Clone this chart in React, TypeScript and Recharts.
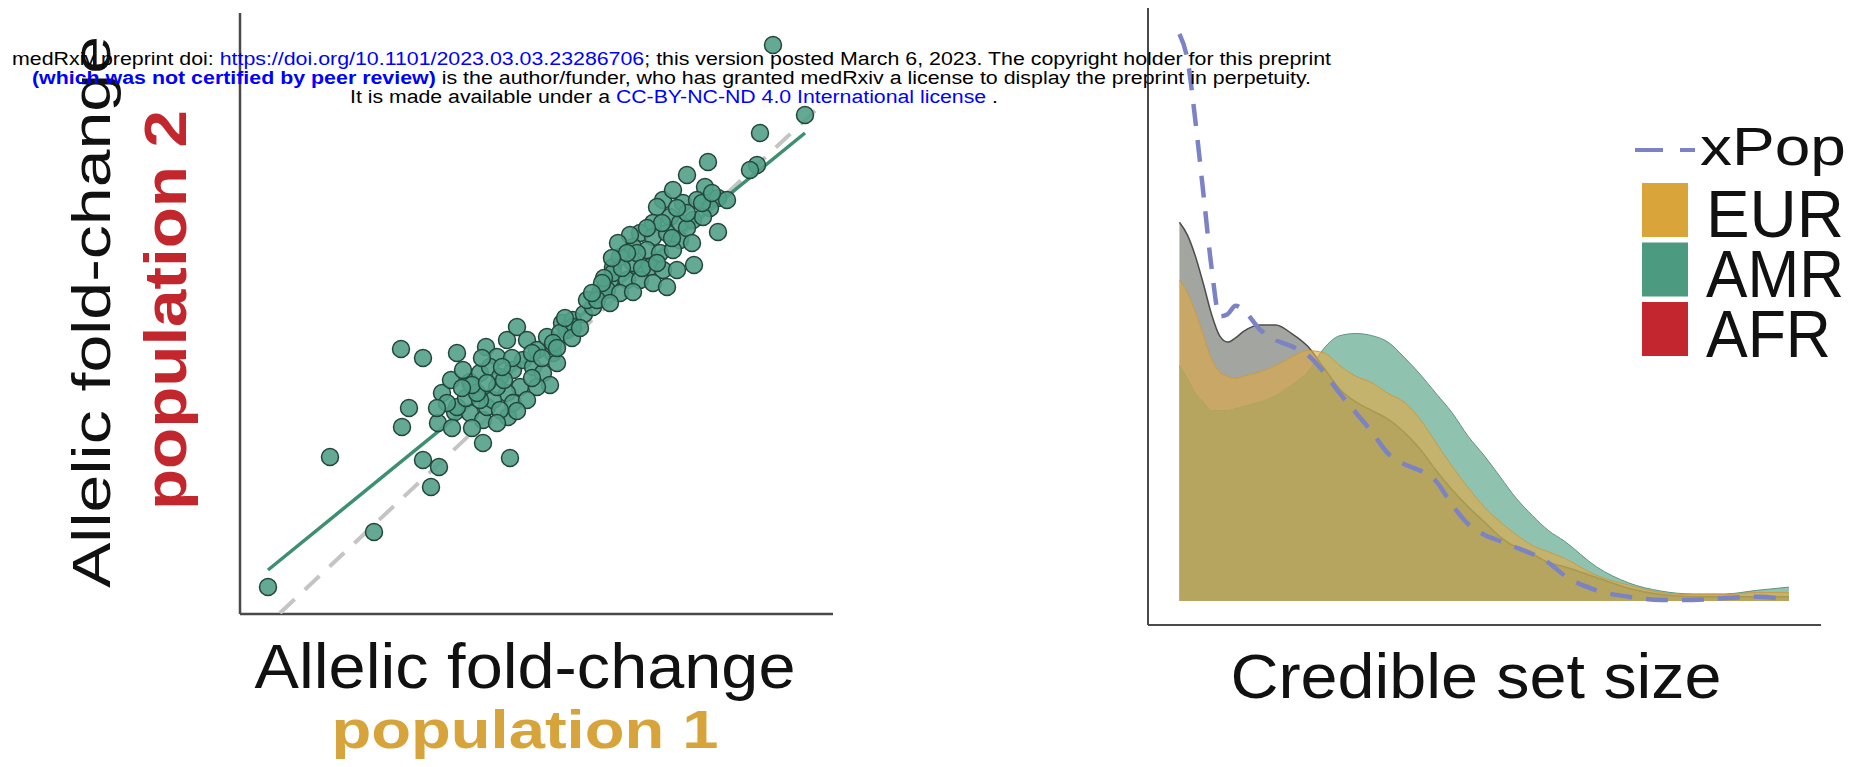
import React from "react";
import { ScatterChart, Scatter, ComposedChart, Area, Line, XAxis, YAxis } from "recharts";

// left panel: allelic fold-change, population 1 vs population 2
const pop1Fold = [
  0.26, 0.88, 1.32, 1.67, 1.6, 1.96, 1.81, 1.97, 1.89, 2.0, 2.41, 2.13, 2.28, 2.41, 2.68, 2.45,
  1.59, 1.81, 2.15, 2.44, 2.09, 2.15, 2.28, 2.38, 2.24, 2.66, 2.55, 2.65, 2.75, 2.85, 2.95, 3.05,
  3.11, 3.2, 3.31, 3.42, 2.48, 2.58, 2.71, 2.81, 2.91, 3.01, 3.08, 2.78, 2.65, 2.51, 2.38, 2.55,
  2.95, 2.71, 2.85, 2.58, 2.35, 3.51, 3.58, 3.68, 3.71, 3.45, 3.25, 5.63, 5.18, 5.15, 5.08, 4.66,
  4.45, 4.63, 4.76, 4.85, 4.76, 4.52, 4.21, 4.15, 4.41, 4.55, 4.68, 4.28, 4.38, 4.51, 4.61, 4.11,
  3.98, 4.11, 4.25, 4.38, 3.91, 4.05, 4.18, 4.31, 3.78, 3.91, 4.08, 4.21, 4.35, 3.71, 3.85, 3.98,
  4.11, 4.25, 3.65, 3.78, 3.91, 3.55, 3.68, 3.31, 3.18, 3.11, 5.31, 3.88, 3.76, 4.31, 2.21, 3.23,
  2.3, 2.45, 2.62, 2.7, 2.9, 3.0, 2.4, 2.6, 2.2, 2.05, 1.95, 2.1, 2.3, 2.55, 2.75, 2.9,
  3.15, 3.3, 3.38, 3.15, 3.62, 3.8, 3.95, 4.0, 4.15, 4.3, 4.45, 4.45, 4.6, 4.2, 4.05, 3.85,
  3.7, 4.35, 3.6, 3.5, 4.5, 4.7,
];
const pop2Fold = [
  0.26, 1.56, 0.81, 2.05, 1.86, 1.9, 1.53, 1.46, 1.26, 2.2, 1.7, 2.01, 2.0, 1.93, 1.55, 2.06,
  2.64, 2.55, 2.6, 2.66, 2.33, 2.06, 2.31, 2.4, 2.15, 1.96, 2.56, 2.73, 2.86, 2.73, 2.63, 2.76,
  2.6, 2.9, 2.93, 2.99, 2.46, 2.36, 2.43, 2.53, 2.46, 2.4, 2.28, 2.26, 2.2, 2.13, 2.13, 2.26,
  2.26, 2.1, 2.13, 2.03, 2.2, 3.06, 3.2, 3.33, 3.46, 3.13, 2.83, 4.98, 4.8, 4.48, 4.43, 4.51,
  4.38, 4.26, 4.15, 4.13, 3.81, 3.48, 4.13, 4.06, 4.1, 4.13, 4.05, 3.96, 3.9, 3.93, 3.96, 3.9,
  3.8, 3.76, 3.8, 3.73, 3.66, 3.63, 3.6, 3.63, 3.56, 3.5, 3.46, 3.43, 3.43, 3.4, 3.33, 3.33,
  3.3, 3.26, 3.23, 3.2, 3.21, 3.13, 3.1, 2.86, 2.8, 2.7, 5.68, 3.78, 3.7, 4.23, 2.43, 2.95,
  2.28, 2.3, 2.33, 2.55, 2.6, 2.55, 2.55, 2.46, 2.25, 2.1, 2.05, 1.85, 1.85, 1.9, 2.02, 2.35,
  2.5, 2.75, 2.85, 2.65, 3.35, 3.45, 3.6, 3.45, 3.5, 3.75, 3.85, 4.0, 4.1, 3.9, 3.85, 3.6,
  3.55, 4.05, 3.3, 3.2, 3.7, 4.2,
];
const identityX = [0.38, 5.78];
const identityY = [0, 5.07];
const fitX = [0.26, 5.63];
const fitY = [0.43, 4.8];

// right panel: credible set size densities
const setSize = [
  0, 0.05, 0.1, 0.15, 0.2, 0.25, 0.3, 0.35, 0.4, 0.5, 0.6, 0.7, 0.8, 0.9, 1.0, 1.1, 1.2, 1.3,
  1.4, 1.5, 1.6, 1.7, 1.8, 1.9, 2.0, 2.1, 2.2, 2.3, 2.4, 2.6, 2.8, 3.0, 3.2, 3.4, 3.6, 3.8,
];
const afrDensity = [
  1.77, 1.71, 1.61, 1.48, 1.34, 1.24, 1.21, 1.23, 1.26, 1.29, 1.29, 1.25, 1.19, 1.09, 0.99, 0.93,
  0.89, 0.85, 0.79, 0.71, 0.61, 0.52, 0.44, 0.37, 0.3, 0.25, 0.22, 0.18, 0.16, 0.11, 0.06, 0.03,
  0.02, 0.02, 0.02, 0.02,
];
const eurDensity = [
  1.5, 1.44, 1.35, 1.24, 1.13, 1.07, 1.05, 1.04, 1.05, 1.07, 1.1, 1.14, 1.17, 1.16, 1.1, 1.05,
  1.02, 0.97, 0.93, 0.85, 0.74, 0.63, 0.53, 0.44, 0.37, 0.31, 0.26, 0.23, 0.2, 0.12, 0.075, 0.04,
  0.03, 0.03, 0.04, 0.04,
];
const amrDensity = [
  1.1, 1.04, 0.97, 0.93, 0.89, 0.89, 0.89, 0.9, 0.91, 0.93, 0.96, 1.01, 1.07, 1.18, 1.24, 1.25,
  1.24, 1.21, 1.14, 1.06, 0.97, 0.88, 0.77, 0.68, 0.58, 0.48, 0.4, 0.33, 0.28, 0.16, 0.085, 0.047,
  0.033, 0.033, 0.05, 0.065,
];
const xPopDensity = [
  2.65, 2.53, 2.24, 1.9, 1.56, 1.33, 1.34, 1.38, 1.36, 1.27, 1.22, 1.19, 1.15, 1.07, 0.97, 0.88,
  0.79, 0.69, 0.64, 0.61, 0.56, 0.45, 0.36, 0.31, 0.28, 0.25, 0.22, 0.18, 0.12, 0.05, 0.02, 0.005,
  0.005, 0.014, 0.02, 0.005,
];

const legendItems = [
  { name: "EUR", color: "#d9a53a" },
  { name: "AMR", color: "#4c9a80" },
  { name: "AFR", color: "#c3262e" },
];

const FONT = "'Liberation Sans', Arial, Helvetica, sans-serif";

const points = pop1Fold.map((x, i) => ({ x, y: pop2Fold[i] }));
const identityData = identityX.map((x, i) => ({ x, y: identityY[i] }));
const fitData = fitX.map((x, i) => ({ x, y: fitY[i] }));
const densityData = setSize.map((x, i) => ({
  x,
  AFR: afrDensity[i],
  EUR: eurDensity[i],
  AMR: amrDensity[i],
  xPop: xPopDensity[i],
}));

const noShape = () => <g />;

const Dot = (props: any) => (
  <circle
    cx={props.cx}
    cy={props.cy}
    r={8.5}
    fill="#52a088"
    fillOpacity={0.9}
    stroke="#24463a"
    strokeWidth={1.5}
  />
);

export default function App() {
  const axisLine = { stroke: "#4a4a4a", strokeWidth: 2.5 };
  return (
    <div
      style={{
        position: "absolute",
        left: 0,
        top: 0,
        width: 1855,
        height: 767,
        overflow: "hidden",
        background: "#fff",
      }}
    >
      <div style={{ position: "absolute", left: 0, top: 0 }}>
        <ScatterChart width={880} height={640} margin={{ top: 13, right: 47, bottom: 25, left: 239 }}>
          <XAxis
            type="number"
            dataKey="x"
            domain={[-0.02, 5.91]}
            allowDataOverflow
            height={1}
            tick={false}
            tickLine={false}
            axisLine={axisLine}
          />
          <YAxis
            type="number"
            dataKey="y"
            domain={[-0.01, 6.0]}
            allowDataOverflow
            width={1}
            tick={false}
            tickLine={false}
            axisLine={axisLine}
          />
          <Scatter
            data={identityData}
            line={{ stroke: "#c4c4c4", strokeWidth: 4, strokeDasharray: "20 14" }}
            shape={noShape}
            isAnimationActive={false}
          />
          <Scatter
            data={fitData}
            line={{ stroke: "#3d8f70", strokeWidth: 3.5 }}
            shape={noShape}
            isAnimationActive={false}
          />
          <Scatter data={points} shape={Dot} isAnimationActive={false} />
        </ScatterChart>
      </div>

      <div style={{ position: "absolute", left: 1090, top: 0 }}>
        <ComposedChart
          width={760}
          height={640}
          data={densityData}
          margin={{ top: 8, right: 29, bottom: 14, left: 57 }}
        >
          <XAxis
            type="number"
            dataKey="x"
            domain={[-0.196, 4.0]}
            ticks={[0, 1, 2, 3, 4]}
            interval={0}
            allowDataOverflow
            height={1}
            tick={false}
            tickSize={5}
            tickLine={{ stroke: "#777", strokeWidth: 1.5 }}
            axisLine={{ stroke: "#4a4a4a", strokeWidth: 2 }}
          />
          <YAxis
            type="number"
            domain={[-0.112, 2.771]}
            ticks={[0, 1, 2]}
            interval={0}
            allowDataOverflow
            width={1}
            tick={false}
            tickSize={5}
            tickLine={{ stroke: "#777", strokeWidth: 1.5 }}
            axisLine={{ stroke: "#4a4a4a", strokeWidth: 2 }}
          />
          <Area
            type="monotone"
            dataKey="AFR"
            fill="#7a7f77"
            fillOpacity={0.7}
            stroke="#4d4d4d"
            strokeWidth={1.5}
            isAnimationActive={false}
          />
          <Area
            type="monotone"
            dataKey="AMR"
            fill="#3f9677"
            fillOpacity={0.58}
            stroke="#5e9484"
            strokeWidth={1}
            isAnimationActive={false}
          />
          <Area
            type="monotone"
            dataKey="EUR"
            fill="#e0aa46"
            fillOpacity={0.64}
            stroke="#c99c48"
            strokeWidth={1}
            isAnimationActive={false}
          />
          <Line
            type="monotone"
            dataKey="xPop"
            stroke="#7b83c4"
            strokeWidth={4.5}
            strokeDasharray="22 14"
            dot={false}
            isAnimationActive={false}
          />
        </ComposedChart>
      </div>

      <svg
        width={1855}
        height={767}
        style={{ position: "absolute", left: 0, top: 0, pointerEvents: "none" }}
        fontFamily={FONT}
      >
        {/* left panel axis titles */}
        <text
          transform="translate(110,312) rotate(-90)"
          textAnchor="middle"
          fontSize={53}
          textLength={552}
          lengthAdjust="spacingAndGlyphs"
          fill="#111"
        >
          Allelic fold-change
        </text>
        <text
          transform="translate(186,310) rotate(-90)"
          textAnchor="middle"
          fontSize={60}
          fontWeight="bold"
          textLength={400}
          lengthAdjust="spacingAndGlyphs"
          fill="#c1272d"
        >
          population 2
        </text>
        <text
          x={525}
          y={688}
          textAnchor="middle"
          fontSize={63}
          textLength={541}
          lengthAdjust="spacingAndGlyphs"
          fill="#111"
        >
          Allelic fold-change
        </text>
        <text
          x={525}
          y={748}
          textAnchor="middle"
          fontSize={54}
          fontWeight="bold"
          textLength={387}
          lengthAdjust="spacingAndGlyphs"
          fill="#d7a43c"
        >
          population 1
        </text>

        {/* right panel axis title */}
        <text
          x={1476}
          y={698}
          textAnchor="middle"
          fontSize={63}
          textLength={491}
          lengthAdjust="spacingAndGlyphs"
          fill="#111"
        >
          Credible set size
        </text>

        {/* legend */}
        <line x1={1635} y1={150} x2={1695} y2={150} stroke="#7b83c4" strokeWidth={4} strokeDasharray="28 17" />
        <text x={1700} y={165} fontSize={53} textLength={146} lengthAdjust="spacingAndGlyphs" fill="#111">
          xPop
        </text>
        {legendItems.map((item, i) => (
          <g key={item.name}>
            <rect x={1642} y={183 + i * 59.5} width={46} height={54} fill={item.color} />
            <text
              x={1706}
              y={237 + i * 60}
              fontSize={66}
              textLength={item.name === "AFR" ? 125 : 138}
              lengthAdjust="spacingAndGlyphs"
              fill="#111"
            >
              {item.name}
            </text>
          </g>
        ))}

        {/* preprint watermark */}
        <text x={12} y={65} fontSize={18} textLength={1319} lengthAdjust="spacingAndGlyphs" fill="#000">
          medRxiv preprint doi: <tspan fill="#0000ff">https://doi.org/10.1101/2023.03.03.23286706</tspan>; this
          version posted March 6, 2023. The copyright holder for this preprint
        </text>
        <text x={32} y={84} fontSize={18} textLength={1279} lengthAdjust="spacingAndGlyphs" fill="#000">
          <tspan fill="#0000ff" fontWeight="bold">
            (which was not certified by peer review)
          </tspan>{" "}
          is the author/funder, who has granted medRxiv a license to display the preprint in perpetuity.
        </text>
        <text x={350} y={103} fontSize={18} textLength={648} lengthAdjust="spacingAndGlyphs" fill="#000">
          It is made available under a <tspan fill="#0000ff">CC-BY-NC-ND 4.0 International license</tspan> .
        </text>
      </svg>
    </div>
  );
}
